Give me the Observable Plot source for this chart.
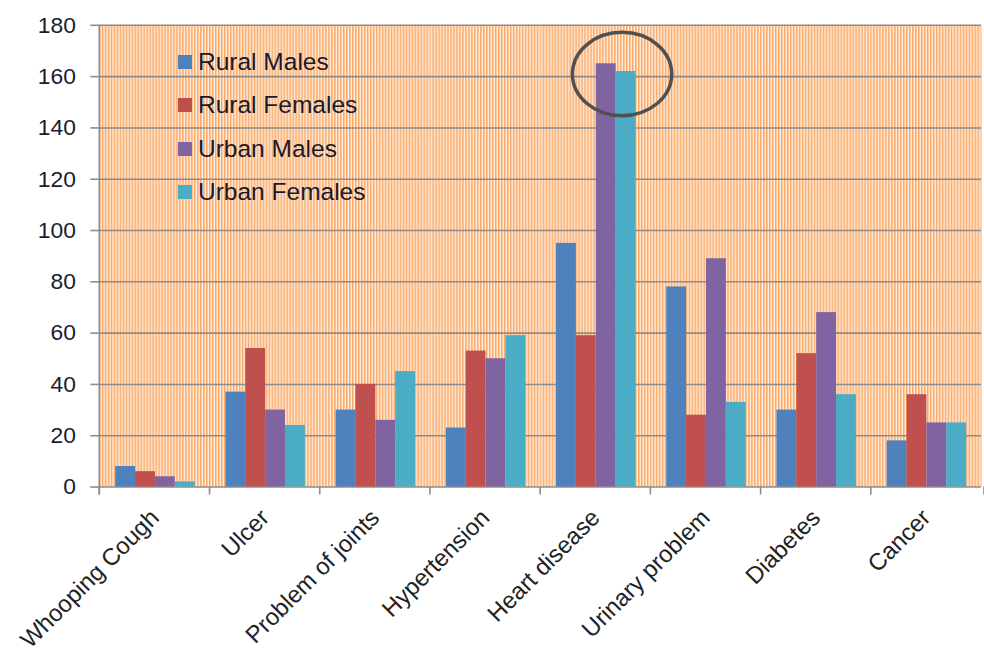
<!DOCTYPE html>
<html>
<head>
<meta charset="utf-8">
<script src="https://cdn.jsdelivr.net/npm/d3@7"></script>
<script src="https://cdn.jsdelivr.net/npm/@observablehq/plot@0.6"></script>
<style>
  html, body { margin: 0; padding: 0; background: #fff; overflow: hidden; }
  #wrap { position: relative; width: 984px; height: 655px; overflow: hidden; }
  #legend { position: absolute; left: 178px; top: 40px; font-family: "Liberation Sans", Arial, sans-serif; font-size: 24.5px; color: #1a1a2e; }
  #legend .row { display: flex; align-items: center; height: 43.5px; }
  #legend .sw { width: 14px; height: 14px; margin-right: 6px; }
</style>
</head>
<body>
<div id="wrap"><div id="chart"></div><div id="legend"></div></div>
<script>
const categories = ["Whooping Cough", "Ulcer", "Problem of joints", "Hypertension", "Heart disease", "Urinary problem", "Diabetes", "Cancer"];
const seriesNames = ["Rural Males", "Rural Females", "Urban Males", "Urban Females"];
const ruralMales   = [8, 37, 30, 23, 95, 78, 30, 18];
const ruralFemales = [6, 54, 40, 53, 59, 28, 52, 36];
const urbanMales   = [4, 30, 26, 50, 165, 89, 68, 25];
const urbanFemales = [2, 24, 45, 59, 162, 33, 36, 25];
const yTicks = [0, 20, 40, 60, 80, 100, 120, 140, 160, 180];
const seriesColors = ["#4F81BD", "#C0504D", "#8064A2", "#4BACC6"];
const highlight = [{category: "Heart disease", series: "Urban Females", value: 161}];

const seriesValues = [ruralMales, ruralFemales, urbanMales, urbanFemales];
const table = [];
categories.forEach((c, i) => {
  seriesNames.forEach((s, j) => table.push({category: c, series: s, value: seriesValues[j][i]}));
});

const ellipseSymbol = {
  draw(ctx) {
    const a = 50, b = 42, k = 0.5523;
    ctx.moveTo(a, 0);
    ctx.bezierCurveTo(a, k * b, k * a, b, 0, b);
    ctx.bezierCurveTo(-k * a, b, -a, k * b, -a, 0);
    ctx.bezierCurveTo(-a, -k * b, -k * a, -b, 0, -b);
    ctx.bezierCurveTo(k * a, -b, a, -k * b, a, 0);
    ctx.closePath();
  }
};

const gray = "#8c8c8c";
const plot = Plot.plot({
  width: 991,
  height: 655,
  marginLeft: 97,
  marginRight: 0,
  marginTop: 25,
  marginBottom: 165,
  style: {fontFamily: "'Liberation Sans', Arial, sans-serif", background: "transparent", overflow: "visible"},
  fx: {domain: categories, padding: 0, axis: null, label: null},
  x: {domain: seriesNames, paddingInner: 0, paddingOuter: 0.76, axis: null, label: null},
  y: {domain: [0, 180], axis: null, label: null},
  color: {domain: seriesNames, range: seriesColors},
  marks: [
    Plot.frame({fill: "url(#stripes)", stroke: "none"}),
    Plot.gridY(yTicks, {stroke: gray, strokeOpacity: 1, strokeWidth: 1.6}),
    Plot.axisY(yTicks, {label: null, tickSize: 9, tickPadding: 15, stroke: gray, strokeWidth: 1.6, fill: "#1c1c30", fontSize: 23}),
    Plot.axisFx({anchor: "bottom", label: null, tickSize: 0, tickRotate: -45, textAnchor: "end", tickPadding: 27, fontSize: 24, fill: "#222"}),
    Plot.barY(table, {fx: "category", x: "series", y: "value", fill: "series"}),
    Plot.dot(highlight, {fx: "category", x: "series", y: "value", dx: -4, symbol: ellipseSymbol, r: 10, fill: "none", stroke: "#505050", strokeWidth: 3.5})
  ]
});

// stripe pattern for the plot background
const defs = d3.select(plot).insert("defs", ":first-child");
const pat = defs.append("pattern").attr("id", "stripes").attr("patternUnits", "userSpaceOnUse").attr("width", 3).attr("height", 10);
pat.append("rect").attr("x", 0).attr("y", 0).attr("width", 1).attr("height", 10).attr("fill", "#f9a764");
pat.append("rect").attr("x", 1).attr("y", 0).attr("width", 1).attr("height", 10).attr("fill", "#fdc79a");
pat.append("rect").attr("x", 2).attr("y", 0).attr("width", 1).attr("height", 10).attr("fill", "#fff0e4");

// category boundary ticks and left axis line from Plot's own scales
const fxS = plot.scale("fx"), yS = plot.scale("y");
const y0 = yS.apply(0), yTop = yS.apply(180);
const bounds = categories.map(c => fxS.apply(c)).concat([fxS.range[1]]);
const deco = d3.select(plot).append("g").attr("stroke", gray).attr("stroke-width", 1.6);
bounds.forEach(b => deco.append("line").attr("x1", b).attr("x2", b).attr("y1", y0).attr("y2", y0 + 8));
deco.append("line").attr("x1", bounds[0]).attr("x2", bounds[0]).attr("y1", yTop).attr("y2", y0 + 8);

document.getElementById("chart").appendChild(plot);

const legend = d3.select("#legend");
seriesNames.forEach((s, i) => {
  const row = legend.append("div").attr("class", "row");
  row.append("div").attr("class", "sw").style("background", seriesColors[i]);
  row.append("span").text(s);
});
</script>
</body>
</html>
